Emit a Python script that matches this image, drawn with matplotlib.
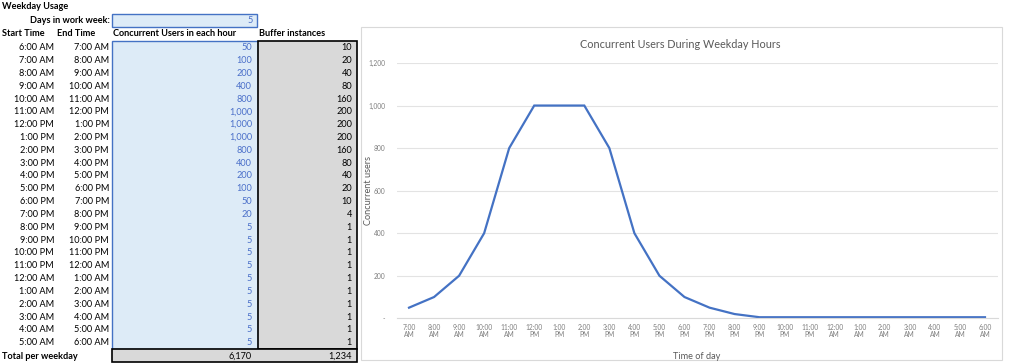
import matplotlib

matplotlib.use("Agg")
import matplotlib.pyplot as plt
from matplotlib.patches import Rectangle
from matplotlib.ticker import FuncFormatter

plt.rcParams["font.family"] = ["Lato", "DejaVu Sans"]

# spreadsheet data
days_in_week = 5
start_times = ["6:00 AM", "7:00 AM", "8:00 AM", "9:00 AM", "10:00 AM", "11:00 AM",
               "12:00 PM", "1:00 PM", "2:00 PM", "3:00 PM", "4:00 PM", "5:00 PM",
               "6:00 PM", "7:00 PM", "8:00 PM", "9:00 PM", "10:00 PM", "11:00 PM",
               "12:00 AM", "1:00 AM", "2:00 AM", "3:00 AM", "4:00 AM", "5:00 AM"]
end_times = ["7:00 AM", "8:00 AM", "9:00 AM", "10:00 AM", "11:00 AM", "12:00 PM",
             "1:00 PM", "2:00 PM", "3:00 PM", "4:00 PM", "5:00 PM", "6:00 PM",
             "7:00 PM", "8:00 PM", "9:00 PM", "10:00 PM", "11:00 PM", "12:00 AM",
             "1:00 AM", "2:00 AM", "3:00 AM", "4:00 AM", "5:00 AM", "6:00 AM"]
users = [50, 100, 200, 400, 800, 1000, 1000, 1000, 800, 400, 200, 100,
         50, 20, 5, 5, 5, 5, 5, 5, 5, 5, 5, 5]
buffer = [10, 20, 40, 80, 160, 200, 200, 200, 160, 80, 40, 20,
          10, 4, 1, 1, 1, 1, 1, 1, 1, 1, 1, 1]
total_users = 6170
total_buffer = 1234

W, H = 1024, 364
fig = plt.figure(figsize=(W / 100, H / 100), dpi=100)

# overlay in pixel coords for the sheet part
sheet = fig.add_axes([0, 0, 1, 1])
sheet.set_xlim(0, W)
sheet.set_ylim(H, 0)
sheet.axis("off")

BLUE_FILL = "#ddebf7"
BLUE_EDGE = "#4472c4"
BLUE_TXT = "#4a6fc9"
GRAY_FILL = "#d9d9d9"
FS = 6.6

row0, row_h = 47.7, 12.83

sheet.add_patch(Rectangle((112, 13.5), 145, 13.5, fc=BLUE_FILL, ec=BLUE_EDGE, lw=1))
sheet.add_patch(Rectangle((112, 40.5), 146, 308.5, fc=BLUE_FILL, ec=BLUE_EDGE, lw=1))
sheet.add_patch(Rectangle((258, 40.5), 99, 308.5, fc=GRAY_FILL, ec="black", lw=1.2))
sheet.add_patch(Rectangle((112, 349), 245, 13, fc=GRAY_FILL, ec="black", lw=1.2))

sheet.text(2, 6.7, "Weekday Usage", fontsize=FS, weight="bold", va="center")
sheet.text(110, 20.7, "Days in work week:", fontsize=FS, weight="bold", va="center", ha="right")
sheet.text(253, 20.7, str(days_in_week), fontsize=FS, color=BLUE_TXT, va="center", ha="right")
sheet.text(2, 33.7, "Start Time", fontsize=FS, weight="bold", va="center")
sheet.text(57, 33.7, "End Time", fontsize=FS, weight="bold", va="center")
sheet.text(113, 33.7, "Concurrent Users in each hour", fontsize=FS, weight="bold", va="center")
sheet.text(259, 33.7, "Buffer instances", fontsize=FS, weight="bold", va="center")

for i, (s, e, u, b) in enumerate(zip(start_times, end_times, users, buffer)):
    y = row0 + i * row_h
    sheet.text(54, y, s, fontsize=FS, ha="right", va="center")
    sheet.text(109, y, e, fontsize=FS, ha="right", va="center")
    sheet.text(252, y, f"{u:,}", fontsize=FS, ha="right", va="center", color=BLUE_TXT)
    sheet.text(352, y, f"{b:,}", fontsize=FS, ha="right", va="center")

sheet.text(2, 356.5, "Total per weekday", fontsize=FS, weight="bold", va="center")
sheet.text(252, 356.5, f"{total_users:,}", fontsize=FS, ha="right", va="center")
sheet.text(352, 356.5, f"{total_buffer:,}", fontsize=FS, ha="right", va="center")

# chart frame
sheet.add_patch(Rectangle((361, 27), 641, 333, fc="white", ec="#d9d9d9", lw=0.8))
sheet.text(680, 44, "Concurrent Users During Weekday Hours", fontsize=7.8,
           color="#595959", ha="center", va="center")

ax_l, ax_r, ax_t, ax_b = 396.5, 997.5, 63.0, 318.3
ax = fig.add_axes([ax_l / W, 1 - ax_b / H, (ax_r - ax_l) / W, (ax_b - ax_t) / H])
ax.patch.set_alpha(0)
x = range(len(users))
ax.plot(x, users, color="#4472c4", lw=1.6, solid_joinstyle="miter")
ax.set_xlim(-0.5, len(users) - 0.5)
ax.set_ylim(0, 1200)
ax.set_yticks([0, 200, 400, 600, 800, 1000, 1200])
ax.yaxis.set_major_formatter(FuncFormatter(lambda v, p: "-" if v == 0 else f"{int(v):,}"))
ax.set_xticks(list(x))
ax.set_xticklabels([t.replace(" ", "\n") for t in end_times], linespacing=1.1)
ax.tick_params(axis="both", length=0, labelsize=4.8, labelcolor="#7f7f7f")
ax.tick_params(axis="x", pad=4)
ax.tick_params(axis="y", pad=8)
ax.grid(axis="y", color="#e3e3e3", lw=0.8)
ax.set_axisbelow(True)
for side in ("top", "right", "left"):
    ax.spines[side].set_visible(False)
ax.spines["bottom"].set_color("#d9d9d9")
ax.spines["bottom"].set_linewidth(0.8)
ax.set_ylabel("Concurrent users", fontsize=6.6, color="#595959")
ax.yaxis.set_label_coords((373 - ax_l) / (ax_r - ax_l), 0.5)
ax.set_xlabel("Time of day", fontsize=6.6, color="#595959")
ax.xaxis.set_label_coords(0.5, -(352 - ax_b) / (ax_b - ax_t))

fig.savefig("out.png", dpi=100)
